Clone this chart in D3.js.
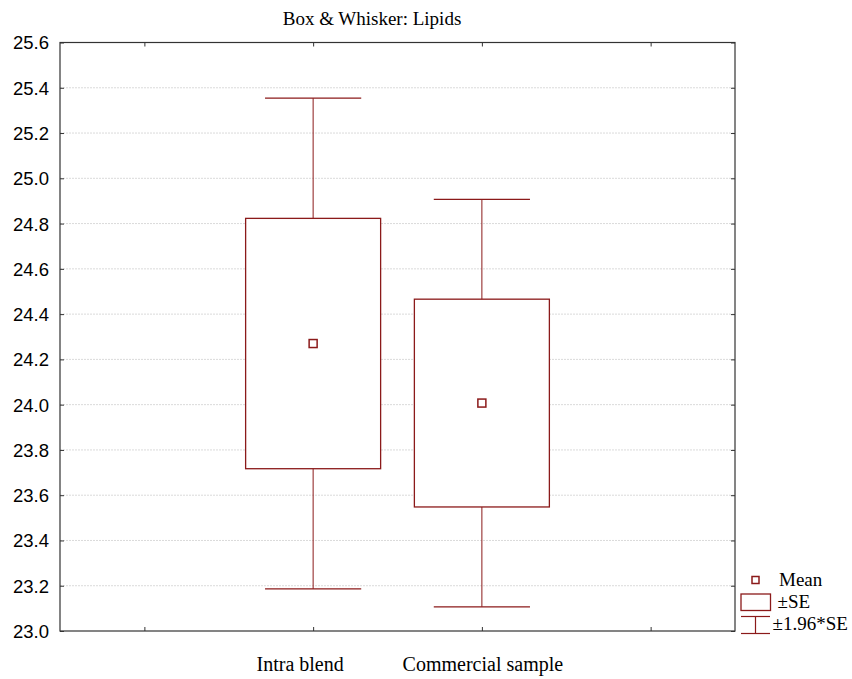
<!DOCTYPE html>
<html>
<head>
<meta charset="utf-8">
<script src="https://cdn.jsdelivr.net/npm/d3@7"></script>
<style>
  html, body { margin: 0; padding: 0; background: #fff; }
  svg { display: block; }
</style>
</head>
<body>
<svg id="chart" width="852" height="679"></svg>
<script>
// Box & whisker summary for lipid content: mean, ±SE box, ±1.96*SE whiskers
const categories = ["Intra blend", "Commercial sample"];
const means       = [24.27, 24.007];
const seLow       = [23.717, 23.548];
const seHigh      = [24.823, 24.466];
const ciLow       = [23.186, 23.107];
const ciHigh      = [25.354, 24.907];
const yTicks      = [23.0, 23.2, 23.4, 23.6, 23.8, 24.0, 24.2, 24.4, 24.6, 24.8, 25.0, 25.2, 25.4, 25.6];
const legendItems = ["Mean", "±SE", "±1.96*SE"];

const svg = d3.select("#chart");
const frame = { left: 60, right: 735, top: 42.5, bottom: 631 };
const red = "#8b1a1a";
const sans = "'Liberation Sans', Arial, sans-serif";
const serif = "'Liberation Serif', 'Times New Roman', serif";

// four slots across the frame; the two groups sit in the middle slots
const x = d3.scaleLinear().domain([0, 4]).range([frame.left, frame.right]);
const slot = categories.map((c, i) => i + 1.5);
const y = d3.scaleLinear().domain([23.0, 25.6]).range([frame.bottom, frame.top]);

// horizontal grid
svg.append("g")
  .selectAll("line")
  .data(yTicks.slice(1, -1))
  .join("line")
  .attr("x1", frame.left).attr("x2", frame.right)
  .attr("y1", d => y(d)).attr("y2", d => y(d))
  .attr("stroke", "#dadada").attr("stroke-width", 1)
  .attr("stroke-dasharray", "2,1");

// left axis with inward ticks
const yAxis = d3.axisRight(y).tickValues(yTicks).tickSize(4).tickFormat(d3.format(".1f"));
const gy = svg.append("g").attr("transform", `translate(${frame.left},0)`).call(yAxis);
gy.select(".domain").remove();
gy.selectAll(".tick line").attr("stroke", "#333");
gy.selectAll(".tick text")
  .attr("x", -11).attr("text-anchor", "end").attr("dy", "0.35em")
  .attr("font-family", sans).attr("font-size", "18.5px").attr("fill", "#000");

// right axis ticks (inward)
const gyr = svg.append("g").attr("transform", `translate(${frame.right},0)`)
  .call(d3.axisLeft(y).tickValues(yTicks).tickSize(4).tickFormat(""));
gyr.select(".domain").remove();
gyr.selectAll(".tick line").attr("stroke", "#333");

// top and bottom slot ticks (inward)
const xTicks = [0.5, 1.5, 2.5, 3.5];
const gxb = svg.append("g").attr("transform", `translate(0,${frame.bottom})`)
  .call(d3.axisTop(x).tickValues(xTicks).tickSize(4).tickFormat(""));
gxb.select(".domain").remove();
gxb.selectAll(".tick line").attr("stroke", "#333");
const gxt = svg.append("g").attr("transform", `translate(0,${frame.top})`)
  .call(d3.axisBottom(x).tickValues(xTicks).tickSize(4).tickFormat(""));
gxt.select(".domain").remove();
gxt.selectAll(".tick line").attr("stroke", "#333");

// frame
svg.append("rect")
  .attr("x", frame.left).attr("y", frame.top)
  .attr("width", frame.right - frame.left).attr("height", frame.bottom - frame.top)
  .attr("fill", "none").attr("stroke", "#333").attr("stroke-width", 1.2);

// groups
const boxW = x(0.8) - x(0);
const capW = x(0.57) - x(0);
const groups = svg.append("g").selectAll("g")
  .data(categories.map((c, i) => ({ c, i })))
  .join("g");

// whiskers
groups.append("line")
  .attr("x1", d => x(slot[d.i])).attr("x2", d => x(slot[d.i]))
  .attr("y1", d => y(ciLow[d.i])).attr("y2", d => y(ciHigh[d.i]))
  .attr("stroke", red).attr("stroke-width", 1);
groups.append("line")
  .attr("x1", d => x(slot[d.i]) - capW / 2).attr("x2", d => x(slot[d.i]) + capW / 2)
  .attr("y1", d => y(ciHigh[d.i])).attr("y2", d => y(ciHigh[d.i]))
  .attr("stroke", red).attr("stroke-width", 1.2);
groups.append("line")
  .attr("x1", d => x(slot[d.i]) - capW / 2).attr("x2", d => x(slot[d.i]) + capW / 2)
  .attr("y1", d => y(ciLow[d.i])).attr("y2", d => y(ciLow[d.i]))
  .attr("stroke", red).attr("stroke-width", 1.2);

// ±SE boxes
groups.append("rect")
  .attr("x", d => x(slot[d.i]) - boxW / 2)
  .attr("y", d => y(seHigh[d.i]))
  .attr("width", boxW)
  .attr("height", d => y(seLow[d.i]) - y(seHigh[d.i]))
  .attr("fill", "#fff").attr("stroke", red).attr("stroke-width", 1.3);

// mean markers
const ms = 8;
groups.append("rect")
  .attr("x", d => x(slot[d.i]) - ms / 2)
  .attr("y", d => y(means[d.i]) - ms / 2)
  .attr("width", ms).attr("height", ms)
  .attr("fill", "#fff").attr("stroke", red).attr("stroke-width", 1.5);

// category labels
const labelShift = [-13, 1];
svg.append("g").selectAll("text")
  .data(categories)
  .join("text")
  .attr("x", (d, i) => x(slot[i]) + labelShift[i])
  .attr("y", 671)
  .attr("text-anchor", "middle")
  .attr("font-family", serif).attr("font-size", "20px").attr("fill", "#000")
  .text(d => d);

// title
svg.append("text")
  .attr("x", 372).attr("y", 25)
  .attr("text-anchor", "middle")
  .attr("font-family", serif).attr("font-size", "19px").attr("fill", "#000")
  .text("Box & Whisker: Lipids");

// legend
const lg = svg.append("g");
lg.append("rect").attr("x", 752).attr("y", 576.5).attr("width", 7).attr("height", 7)
  .attr("fill", "#fff").attr("stroke", red).attr("stroke-width", 1.5);
lg.append("rect").attr("x", 741).attr("y", 594).attr("width", 29.5).attr("height", 16.5)
  .attr("fill", "#fff").attr("stroke", red).attr("stroke-width", 1.3);
lg.append("line").attr("x1", 741).attr("x2", 770).attr("y1", 616.5).attr("y2", 616.5)
  .attr("stroke", red).attr("stroke-width", 1.2);
lg.append("line").attr("x1", 741).attr("x2", 770).attr("y1", 633.5).attr("y2", 633.5)
  .attr("stroke", red).attr("stroke-width", 1.2);
lg.append("line").attr("x1", 755.5).attr("x2", 755.5).attr("y1", 616.5).attr("y2", 633.5)
  .attr("stroke", red).attr("stroke-width", 1.2);
const legendPos = [[779, 586], [777.5, 608], [772.5, 630]];
lg.selectAll("text")
  .data(legendItems)
  .join("text")
  .attr("x", (d, i) => legendPos[i][0]).attr("y", (d, i) => legendPos[i][1])
  .attr("font-family", serif).attr("font-size", "19px").attr("fill", "#000")
  .text(d => d);
</script>
</body>
</html>
